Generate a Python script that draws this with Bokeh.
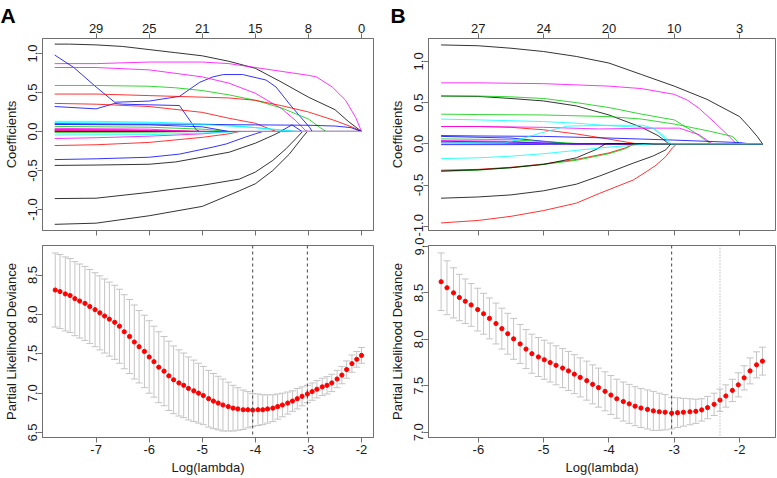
import math
from bokeh.plotting import figure
from bokeh.layouts import column, row
from bokeh.models import FixedTicker, LinearAxis, Range1d, Span, Title
from bokeh.embed import file_html
from bokeh.resources import INLINE

# ---------------- tick labels ----------------
A_x_ticks = [-7, -6, -5, -4, -3, -2]
A_x_labels = ["-7", "-6", "-5", "-4", "-3", "-2"]
A_df_labels = ["29", "25", "21", "15", "8", "0"]
B_x_ticks = [-6, -5, -4, -3, -2]
B_x_labels = ["-6", "-5", "-4", "-3", "-2"]
B_df_labels = ["27", "24", "20", "10", "3"]
coef_ticks = [-1.0, -0.5, 0.0, 0.5, 1.0]
coef_labels = ["-1.0", "-0.5", "0.0", "0.5", "1.0"]
A_dev_ticks = [6.5, 7.0, 7.5, 8.0, 8.5]
A_dev_labels = ["6.5", "7.0", "7.5", "8.0", "8.5"]
B_dev_ticks = [7.0, 7.5, 8.0, 8.5, 9.0]
B_dev_labels = ["7.0", "7.5", "8.0", "8.5", "9.0"]

# ---------------- panel A coefficient paths ----------------
A_x_end = -2.0
a01_x = [-7.78, -7.5, -7, -6.5, -6, -5.5, -5, -4.5, -4, -3.5, -3, -2.5, -2.25, -2.0]
a01_y = [1.12, 1.12, 1.11, 1.09, 1.05, 1.01, 0.97, 0.90, 0.81, 0.63, 0.44, 0.28, 0.13, 0.0]
a02_x = [-7.78, -7, -6, -5, -4.5, -4, -3.5, -3, -2.85, -2.55, -2.3, -2.11, -2.0]
a02_y = [0.87, 0.87, 0.89, 0.89, 0.87, 0.82, 0.77, 0.72, 0.70, 0.57, 0.40, 0.18, 0.0]
a03_x = [-7.78, -7.42, -7.0, -6.65, -6.0, -5.43, -5.05, -4.8, -4.6, -4.24, -3.8, -3.61, -3.36, -3.14, -2.98, -2.93]
a03_y = [0.98, 0.82, 0.57, 0.375, 0.39, 0.45, 0.63, 0.70, 0.73, 0.73, 0.66, 0.57, 0.355, 0.18, 0.055, 0.0]
a04_x = [-7.78, -7.0, -6.65, -6.5, -5.43, -5.11, -5.05]
a04_y = [0.32, 0.29, 0.36, 0.35, 0.333, 0.02, 0.0]
a05_x = [-7.78, -7, -6, -5, -4.5, -4, -3.5, -3.24, -3.05, -3.0]
a05_y = [0.82, 0.82, 0.79, 0.70, 0.62, 0.49, 0.29, 0.14, 0.01, 0.0]
a06_x = [-7.78, -7, -6, -5.5, -5, -4.5, -4, -3.5, -3, -2.78, -2.67]
a06_y = [0.59, 0.59, 0.58, 0.56, 0.525, 0.47, 0.40, 0.30, 0.16, 0.05, 0.0]
a07_x = [-7.78, -7, -6, -5, -4.5, -4, -3.5, -3, -2.5, -2.17, -2.0]
a07_y = [0.48, 0.48, 0.46, 0.44, 0.43, 0.40, 0.33, 0.25, 0.14, 0.055, 0.0]
a08_x = [-7.78, -7, -6, -5, -4.5, -4, -3.74, -3.61]
a08_y = [0.36, 0.35, 0.32, 0.245, 0.17, 0.105, 0.035, 0.0]
a09_x = [-7.78, -7, -6, -5, -4.5, -4, -3.5, -3.2]
a09_y = [0.13, 0.13, 0.12, 0.10, 0.08, 0.05, 0.02, 0.0]
a10_x = [-7.78, -6, -5, -4, -3, -2.5, -2.2, -2.0]
a10_y = [0.10, 0.095, 0.09, 0.085, 0.08, 0.07, 0.05, 0.0]
a11_x = [-7.78, -3.53, -3.31, -3.12]
a11_y = [0.0, 0.0, 0.085, 0.0]
a12_x = [-7.78, -7, -6, -5, -4.5]
a12_y = [-0.09, -0.08, -0.06, -0.03, 0.0]
a13_x = [-7.78, -7, -6, -5, -4.5, -4.3]
a13_y = [-0.18, -0.17, -0.14, -0.075, -0.03, 0.0]
a14_x = [-7.78, -7, -6, -5.43, -4.8, -4.55, -4.18, -4, -3.86]
a14_y = [-0.36, -0.35, -0.33, -0.29, -0.20, -0.16, -0.07, -0.03, 0.0]
a15_x = [-7.78, -7, -6, -5.5, -4.93, -4.49, -4, -3.67, -3.52]
a15_y = [-0.435, -0.43, -0.42, -0.39, -0.32, -0.265, -0.15, -0.05, 0.0]
a16_x = [-7.78, -7, -6, -5, -4.3, -4, -3.67, -3.42, -3.24, -3.11]
a16_y = [-0.86, -0.855, -0.78, -0.69, -0.61, -0.52, -0.37, -0.22, -0.094, 0.0]
a17_x = [-7.78, -7, -6, -5, -4.3, -4, -3.67, -3.36, -3.11, -3.02]
a17_y = [-1.19, -1.175, -1.08, -0.96, -0.76, -0.67, -0.50, -0.29, -0.073, 0.0]
a18_x = [-7.78, -6, -5, -4.5]
a18_y = [0.065, 0.055, 0.03, 0.0]
a19_x = [-7.78, -6, -5.2]
a19_y = [0.04, 0.03, 0.0]
a20_x = [-7.78, -6.5, -5.6]
a20_y = [0.025, 0.02, 0.0]
a21_x = [-7.78, -6.8, -6.0]
a21_y = [0.005, 0.003, 0.0]
a22_x = [-7.78, -6, -5.0]
a22_y = [-0.012, -0.01, 0.0]
a23_x = [-7.78, -6, -4.8]
a23_y = [0.01, 0.012, 0.0]
a24_x = [-7.78, -6, -4.9]
a24_y = [0.02, 0.015, 0.0]
a25_x = [-7.78, -6, -5, -4.5]
a25_y = [0.09, 0.085, 0.06, 0.0]
a26_x = [-7.78, -6, -5, -4, -3.3]
a26_y = [0.115, 0.11, 0.09, 0.05, 0.0]
a27_x = [-7.78, -6, -5, -4.2]
a27_y = [-0.045, -0.04, -0.02, 0.0]

# ---------------- panel B coefficient paths ----------------
B_x_end = -1.65
b01_x = [-6.57, -6, -5.5, -5, -4.5, -4, -3.5, -3, -2.5, -2, -1.86, -1.73, -1.65]
b01_y = [1.20, 1.19, 1.16, 1.12, 1.06, 0.98, 0.84, 0.70, 0.54, 0.33, 0.21, 0.09, 0.0]
b02_x = [-6.57, -6, -5, -4, -3.5, -3, -2.8, -2.62, -2.37, -2.16, -2.05]
b02_y = [0.74, 0.74, 0.73, 0.70, 0.67, 0.60, 0.53, 0.43, 0.25, 0.09, 0.0]
b03_x = [-6.57, -6, -5.5, -5, -4.5, -4, -3.5, -3.25, -3.08]
b03_y = [0.58, 0.575, 0.55, 0.52, 0.46, 0.35, 0.20, 0.10, 0.0]
b04_x = [-6.57, -6, -5.5, -5, -4.5, -4, -3.5, -3, -2.67, -2.52, -2.44]
b04_y = [0.58, 0.58, 0.57, 0.55, 0.50, 0.44, 0.36, 0.29, 0.13, 0.04, 0.0]
b05_x = [-6.57, -6, -5, -4, -3.5, -3, -2.5, -2.11, -2.0]
b05_y = [0.36, 0.355, 0.35, 0.33, 0.30, 0.24, 0.16, 0.09, 0.0]
b06_x = [-6.57, -6, -5, -4.5, -4, -3.5, -3.33, -3.18, -3.08]
b06_y = [0.30, 0.29, 0.27, 0.25, 0.22, 0.20, 0.19, 0.09, 0.0]
b07_x = [-6.57, -5.6, -5.3, -5.05, -4.64, -4, -3.48, -3.3, -3.18, -3.05]
b07_y = [0.02, 0.01, 0.07, 0.13, 0.215, 0.225, 0.225, 0.18, 0.11, 0.0]
b08_x = [-6.57, -6, -5.5, -5, -4.5, -4.1, -3.8, -3.58]
b08_y = [0.21, 0.21, 0.20, 0.17, 0.12, 0.07, 0.03, 0.0]
b09_x = [-6.57, -6, -5, -4.14, -3.33, -2.92, -2.62, -2.42]
b09_y = [0.21, 0.21, 0.20, 0.18, 0.19, 0.19, 0.11, 0.0]
b10_x = [-6.57, -6, -5, -4, -3, -2.5, -2, -1.85]
b10_y = [0.10, 0.095, 0.09, 0.07, 0.045, 0.03, 0.015, 0.0]
b11_x = [-6.57, -5.5, -4.6]
b11_y = [0.09, 0.07, 0.0]
b12_x = [-6.57, -5.5, -4.4]
b12_y = [0.06, 0.05, 0.0]
b13_x = [-6.57, -5.5, -4.8]
b13_y = [0.04, 0.03, 0.0]
b14_x = [-6.57, -6, -5.2]
b14_y = [0.02, 0.015, 0.0]
b15_x = [-6.57, -5.5, -4.5]
b15_y = [0.03, 0.02, 0.0]
b16_x = [-6.57, -5, -4.0]
b16_y = [0.01, 0.005, 0.0]
b17_x = [-6.57, -5.5, -4.2]
b17_y = [-0.01, -0.01, 0.0]
b18_x = [-6.57, -6, -5.5, -5, -4.5, -4, -3.5, -3.3]
b18_y = [-0.18, -0.17, -0.15, -0.12, -0.08, -0.04, -0.01, 0.0]
b19_x = [-6.57, -6, -5.5, -5, -4.5, -4, -3.75, -3.6]
b19_y = [-0.32, -0.31, -0.285, -0.245, -0.19, -0.11, -0.05, 0.0]
b20_x = [-6.57, -6, -5.5, -5, -4.5, -4, -3.75, -3.62]
b20_y = [-0.335, -0.32, -0.29, -0.25, -0.20, -0.12, -0.06, 0.0]
b21_x = [-6.57, -6, -5.5, -5, -4.5, -4.2, -4.05]
b21_y = [-0.33, -0.315, -0.29, -0.25, -0.17, -0.07, 0.0]
b22_x = [-6.57, -6, -5.5, -5, -4.5, -4.14, -3.63, -3.33, -3.13, -3.05]
b22_y = [-0.66, -0.645, -0.62, -0.57, -0.49, -0.39, -0.235, -0.15, -0.073, 0.0]
b23_x = [-6.57, -6, -5.5, -5, -4.5, -4.14, -3.63, -3.43, -3.28, -3.13, -3.03, -2.96]
b23_y = [-0.96, -0.93, -0.88, -0.81, -0.72, -0.60, -0.44, -0.34, -0.26, -0.155, -0.05, 0.0]

# ---------------- panel A cross-validation ----------------
A_cv_x = [-7.77, -7.68, -7.58, -7.49, -7.40, -7.31, -7.21, -7.12, -7.02, -6.93,
          -6.84, -6.75, -6.65, -6.56, -6.47, -6.37, -6.28, -6.19, -6.09, -6.00,
          -5.91, -5.82, -5.72, -5.63, -5.54, -5.44, -5.35, -5.26, -5.16, -5.07,
          -4.98, -4.88, -4.79, -4.70, -4.61, -4.51, -4.42, -4.33, -4.23, -4.14,
          -4.05, -3.95, -3.86, -3.77, -3.67, -3.58, -3.49, -3.39, -3.30, -3.21,
          -3.12, -3.02, -2.93, -2.84, -2.74, -2.65, -2.56, -2.46, -2.37, -2.28,
          -2.18, -2.09, -2.00]
A_cv_mean = [8.31, 8.29, 8.26, 8.24, 8.20, 8.17, 8.14, 8.10, 8.06, 8.02,
             7.98, 7.94, 7.90, 7.85, 7.78, 7.72, 7.65, 7.59, 7.53, 7.46,
             7.40, 7.33, 7.28, 7.22, 7.17, 7.13, 7.10, 7.06, 7.03, 7.00,
             6.97, 6.93, 6.90, 6.875, 6.85, 6.83, 6.81, 6.80, 6.79, 6.79,
             6.785, 6.79, 6.79, 6.80, 6.81, 6.83, 6.85, 6.875, 6.90, 6.93,
             6.96, 6.99, 7.02, 7.05, 7.08, 7.10, 7.13, 7.18, 7.23, 7.30,
             7.375, 7.43, 7.48]
A_cv_se = [0.47, 0.47, 0.47, 0.47, 0.47, 0.47, 0.47, 0.47, 0.47, 0.47,
           0.47, 0.47, 0.47, 0.47, 0.47, 0.47, 0.47, 0.46, 0.46, 0.46,
           0.45, 0.45, 0.44, 0.44, 0.43, 0.42, 0.41, 0.40, 0.39, 0.38,
           0.37, 0.36, 0.35, 0.34, 0.33, 0.31, 0.29, 0.27, 0.25, 0.23,
           0.21, 0.20, 0.19, 0.18, 0.17, 0.16, 0.15, 0.14, 0.13, 0.13,
           0.12, 0.11, 0.11, 0.11, 0.11, 0.11, 0.11, 0.11, 0.11, 0.11,
           0.11, 0.10, 0.10]

# ---------------- panel B cross-validation ----------------
B_cv_x = [-6.57, -6.48, -6.38, -6.29, -6.20, -6.11, -6.01, -5.92, -5.83, -5.73,
          -5.64, -5.55, -5.46, -5.36, -5.27, -5.18, -5.08, -4.99, -4.90, -4.81,
          -4.71, -4.62, -4.53, -4.44, -4.34, -4.25, -4.16, -4.06, -3.97, -3.88,
          -3.78, -3.69, -3.60, -3.51, -3.41, -3.32, -3.23, -3.14, -3.04, -2.95,
          -2.86, -2.76, -2.67, -2.58, -2.49, -2.39, -2.30, -2.21, -2.11, -2.02,
          -1.93, -1.84, -1.74, -1.65]
B_cv_mean = [8.62, 8.555, 8.50, 8.45, 8.41, 8.37, 8.32, 8.275, 8.225, 8.17,
             8.115, 8.06, 8.005, 7.95, 7.895, 7.845, 7.81, 7.78, 7.75, 7.72,
             7.69, 7.66, 7.625, 7.59, 7.555, 7.515, 7.48, 7.44, 7.40, 7.36,
             7.33, 7.305, 7.28, 7.26, 7.245, 7.23, 7.22, 7.215, 7.205, 7.21,
             7.215, 7.22, 7.225, 7.24, 7.265, 7.30, 7.345, 7.39, 7.45, 7.51,
             7.585, 7.66, 7.725, 7.765]
B_cv_se = [0.31, 0.29, 0.27, 0.25, 0.24, 0.23, 0.23, 0.22, 0.22, 0.22,
           0.22, 0.22, 0.22, 0.21, 0.21, 0.21, 0.21, 0.21, 0.21, 0.21,
           0.21, 0.21, 0.21, 0.21, 0.21, 0.21, 0.21, 0.21, 0.21, 0.21,
           0.21, 0.21, 0.21, 0.21, 0.21, 0.21, 0.20, 0.19, 0.17, 0.16,
           0.15, 0.14, 0.13, 0.12, 0.12, 0.12, 0.12, 0.12, 0.12, 0.13,
           0.13, 0.14, 0.14, 0.15]

# ---------------- styling ----------------
FONT = "Liberation Sans"
BOX = "#707070"
TXT = "#1a1a1a"
PAL = {"k": "#000000", "r": "#FF0000", "g": "#00CD00", "b": "#0000FF", "c": "#00FFFF", "m": "#FF00FF"}

A_paths = [("k", a01_x, a01_y), ("m", a02_x, a02_y), ("b", a03_x, a03_y), ("b", a04_x, a04_y),
           ("m", a05_x, a05_y), ("g", a06_x, a06_y), ("r", a07_x, a07_y), ("r", a08_x, a08_y),
           ("c", a09_x, a09_y), ("b", a10_x, a10_y), ("b", a11_x, a11_y), ("m", a12_x, a12_y),
           ("r", a13_x, a13_y), ("b", a14_x, a14_y), ("k", a15_x, a15_y), ("k", a16_x, a16_y),
           ("k", a17_x, a17_y), ("g", a18_x, a18_y), ("m", a19_x, a19_y), ("r", a20_x, a20_y),
           ("k", a21_x, a21_y), ("g", a22_x, a22_y), ("r", a23_x, a23_y), ("m", a24_x, a24_y),
           ("b", a25_x, a25_y), ("c", a26_x, a26_y), ("c", a27_x, a27_y)]
B_paths = [("k", b01_x, b01_y), ("m", b02_x, b02_y), ("k", b03_x, b03_y), ("g", b04_x, b04_y),
           ("g", b05_x, b05_y), ("c", b06_x, b06_y), ("r", b08_x, b08_y), ("m", b09_x, b09_y),
           ("b", b11_x, b11_y), ("g", b12_x, b12_y), ("m", b13_x, b13_y), ("r", b14_x, b14_y),
           ("b", b15_x, b15_y), ("m", b16_x, b16_y), ("b", b17_x, b17_y), ("r", b19_x, b19_y),
           ("g", b20_x, b20_y), ("k", b21_x, b21_y), ("k", b22_x, b22_y), ("r", b23_x, b23_y),
           ("b", b10_x, b10_y), ("c", b07_x, b07_y), ("c", b18_x, b18_y)]


def new_fig(w, h, bl, br, bt, bb, xr, yr):
    p = figure(width=w, height=h, x_range=Range1d(*xr), y_range=Range1d(*yr),
               output_backend="svg", toolbar_location=None,
               min_border_left=bl, min_border_right=br, min_border_top=bt, min_border_bottom=bb)
    p.grid.visible = False
    p.outline_line_color = BOX
    p.outline_line_width = 1
    p.outline_line_alpha = 1.0
    p.background_fill_color = "white"
    p.border_fill_color = "white"
    return p


def style_axis(ax, ticks, labels, size="13px", standoff=2, orient="horizontal",
               label=None, label_standoff=2):
    ax.ticker = FixedTicker(ticks=ticks, minor_ticks=[])
    ax.major_label_overrides = dict(zip(ticks, labels))
    ax.axis_line_color = BOX
    ax.major_tick_line_color = BOX
    ax.minor_tick_line_color = None
    ax.major_tick_in = 0
    ax.major_tick_out = 5
    ax.major_label_standoff = standoff
    ax.major_label_text_font = FONT
    ax.major_label_text_font_size = size
    ax.major_label_text_color = TXT
    ax.major_label_orientation = orient
    if label is not None:
        ax.axis_label = label
        ax.axis_label_standoff = label_standoff
        ax.axis_label_text_font = FONT
        ax.axis_label_text_font_size = "13px"
        ax.axis_label_text_font_style = "normal"
        ax.axis_label_text_color = TXT


def coef_panel(w, bl, br, xr, yr, ticks, df_labels, paths, x_end, letter, letter_off):
    p = new_fig(w, 236, bl, br, 38, 6, xr, yr)
    style_axis(p.xaxis[0], ticks, ["" for _ in ticks], size="0px", standoff=0)
    top = LinearAxis()
    style_axis(top, ticks, df_labels, standoff=1)
    p.add_layout(top, "above")
    style_axis(p.yaxis[0], coef_ticks, coef_labels, standoff=0, orient="parallel",
               label="Coefficients", label_standoff=7)
    for c, xs, ys in paths:
        xs2, ys2 = list(xs), list(ys)
        if xs2[-1] < x_end:
            xs2.append(x_end)
            ys2.append(0.0)
        p.line(xs2, ys2, line_color=PAL[c], line_width=1, line_alpha=0.8)
    p.add_layout(Title(text=letter, align="left", offset=letter_off, vertical_align="bottom",
                       standoff=-12, text_font=FONT, text_font_size="21px",
                       text_font_style="bold", text_color="#000000"), "above")
    return p


def cv_panel(w, bl, br, bt, bb, xr, yr, ticks, labels, dev_ticks, dev_labels, cx, cm, cs, dash2, col2):
    p = new_fig(w, 241, bl, br, bt, bb, xr, yr)
    style_axis(p.xaxis[0], ticks, labels, standoff=2, label="Log(lambda)", label_standoff=3)
    style_axis(p.yaxis[0], dev_ticks, dev_labels, standoff=0, orient="parallel",
               label="Partial Likelihood Deviance", label_standoff=7)
    lo = [m - s for m, s in zip(cm, cs)]
    hi = [m + s for m, s in zip(cm, cs)]
    ebc = "#c4c4c4"
    p.segment(x0=cx, y0=lo, x1=cx, y1=hi, line_color=ebc, line_width=1)
    p.scatter(cx, hi, marker="dash", size=7, line_color=ebc, line_width=1)
    p.scatter(cx, lo, marker="dash", size=7, line_color=ebc, line_width=1)
    imin = min(range(len(cm)), key=lambda i: cm[i])
    thr = cm[imin] + cs[imin]
    i1se = max(i for i in range(len(cm)) if cm[i] <= thr)
    p.add_layout(Span(location=cx[imin], dimension="height", line_color="#444444",
                      line_dash="3 3", line_width=1))
    p.add_layout(Span(location=cx[i1se], dimension="height", line_color=col2,
                      line_dash=dash2, line_width=1))
    p.scatter(cx, cm, size=4.2, fill_color="#FF0000", line_color="#FF0000")
    return p


A_XR = (-8.01, -1.774)
B_XR = (-6.763, -1.45)

pa = coef_panel(386, 42, 13, A_XR, (-1.269, 1.192), A_x_ticks, A_df_labels, A_paths, A_x_end, "A", -42)
pb = coef_panel(390, 42, 1, B_XR, (-1.052, 1.278), B_x_ticks, B_df_labels, B_paths, B_x_end, "B", -38)
qa = cv_panel(386, 42, 13, 7, 40, A_XR, (6.4375, 8.875), A_x_ticks, A_x_labels, A_dev_ticks, A_dev_labels,
              A_cv_x, A_cv_mean, A_cv_se, "3 3", "#444444")
qb = cv_panel(390, 42, 1, 9, 40, B_XR, (6.943, 9.01), B_x_ticks, B_x_labels, B_dev_ticks, B_dev_labels,
              B_cv_x, B_cv_mean, B_cv_se, "1 2", "#9a9a9a")

layout = column(row(pa, pb), row(qa, qb))
open("out.html", "w").write(file_html(layout, INLINE))
